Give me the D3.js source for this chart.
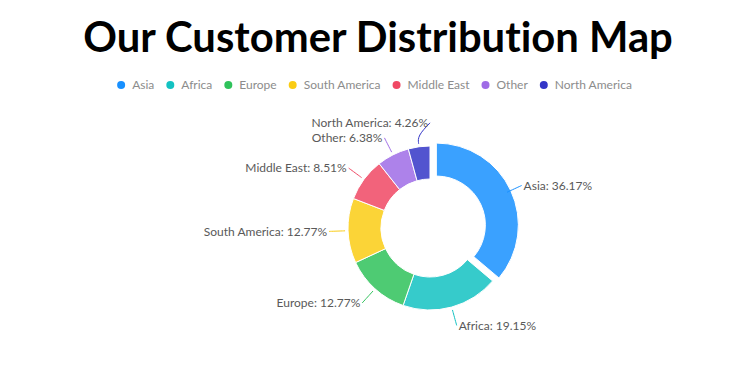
<!DOCTYPE html>
<html>
<head>
<meta charset="utf-8">
<script src="https://cdn.jsdelivr.net/npm/d3@7"></script>
<style>
  html, body { margin: 0; padding: 0; background: #fff; }
  svg { display: block; }
  text { font-variant-ligatures: none; font-feature-settings: "liga" 0, "clig" 0; }
</style>
</head>
<body>
<svg id="chart" width="750" height="377"></svg>
<script>
const titleText = "Our Customer Distribution Map";
const categories = ["Asia", "Africa", "Europe", "South America", "Middle East", "Other", "North America"];
const counts = [17, 9, 6, 6, 4, 3, 2];
const colors = ["#1890FF", "#13C2C2", "#2FC25B", "#FACC14", "#F04864", "#9F6CE6", "#3436C7"];
const explodedCategory = "Asia";

const W = 750, H = 377;
const svg = d3.select("#chart");

// Title
const title = svg.append("text")
  .attr("x", 378).attr("y", 52)
  .attr("text-anchor", "middle")
  .attr("font-family", "Lato, 'Open Sans', sans-serif")
  .attr("font-weight", 700)
  .attr("font-size", 40)
  .attr("fill", "#000")
  .text(titleText);
const tw = title.node().getComputedTextLength();
title.attr("font-size", 40 * 590 / tw);

// Legend
const color = d3.scaleOrdinal().domain(categories).range(colors);
const legend = svg.append("g");
const legendFont = "'Segoe UI', Lato, 'Open Sans', sans-serif";
let lx = 0;
const items = categories.map(c => {
  const g = legend.append("g");
  g.append("circle").attr("cx", 0).attr("cy", 0).attr("r", 4).attr("fill", color(c));
  const t = g.append("text").attr("x", 11).attr("y", 0).attr("dy", "0.35em")
    .attr("font-family", legendFont).attr("font-size", 12).attr("fill", "#8C8C8C").text(c);
  const w = t.node().getComputedTextLength();
  const item = { g, x: lx };
  lx += 11 + w + 16;
  return item;
});
const legendWidth = lx - 16 + 4;
const legendStart = 374.5 - legendWidth / 2 + 4;
items.forEach(it => it.g.attr("transform", `translate(${legendStart + it.x},85)`));

// Pie
const cx = 430, cy = 228, R = 82, r0 = 49, explode = 7;
const labelR = 101, lineStartR = 85;
const total = d3.sum(counts);
const pie = d3.pie().sort(null).value(d => d.value);
const data = categories.map((c, i) => ({ name: c, value: counts[i] }));
const arcs = pie(data);
const arc = d3.arc().innerRadius(r0).outerRadius(R);

const g = svg.append("g").attr("transform", `translate(${cx},${cy})`);
g.selectAll("path.slice").data(arcs).enter().append("path")
  .attr("class", "slice")
  .attr("d", arc)
  .attr("fill", d => color(d.data.name))
  .attr("fill-opacity", 0.85)
  .attr("stroke", "#fff")
  .attr("stroke-width", 1)
  .attr("transform", d => {
    if (d.data.name !== explodedCategory) return null;
    const a = (d.startAngle + d.endAngle) / 2;
    return `translate(${explode * Math.sin(a)},${-explode * Math.cos(a)})`;
  });

// Labels
const labels = arcs.map(d => {
  const a = (d.startAngle + d.endAngle) / 2;
  const right = Math.sin(a) >= 0;
  return {
    d, a, right,
    y: -labelR * Math.cos(a),
    text: `${d.data.name}: ${(d.data.value / total * 100).toFixed(2)}%`
  };
});
const minGap = 15;
[true, false].forEach(side => {
  const s = labels.filter(l => l.right === side).sort((p, q) => p.y - q.y);
  for (let k = s.length - 2; k >= 0; k--) {
    if (s[k + 1].y - s[k].y < minGap) s[k].y = s[k + 1].y - minGap;
  }
});
labels.forEach(l => {
  const dx = Math.sqrt(Math.max(0, labelR * labelR - l.y * l.y));
  l.x = l.right ? dx : -dx;
});

const line = d3.line().curve(d3.curveBasis);
g.selectAll("path.lline").data(labels).enter().append("path")
  .attr("class", "lline")
  .attr("d", l => {
    const p0 = [lineStartR * Math.sin(l.a), -lineStartR * Math.cos(l.a)];
    const pm = [(lineStartR + 8) * Math.sin(l.a), -(lineStartR + 8) * Math.cos(l.a)];
    return line([p0, pm, [l.x, l.y]]);
  })
  .attr("fill", "none")
  .attr("stroke", l => color(l.d.data.name))
  .attr("stroke-width", 1);

g.selectAll("text.lbl").data(labels).enter().append("text")
  .attr("class", "lbl")
  .attr("x", l => l.right ? l.x + 2 : l.x - 2)
  .attr("y", l => l.y)
  .attr("dy", "0.35em")
  .attr("text-anchor", l => l.right ? "start" : "end")
  .attr("font-family", legendFont)
  .attr("font-size", 12)
  .attr("fill", "#595959")
  .text(l => l.text);
</script>
</body>
</html>
